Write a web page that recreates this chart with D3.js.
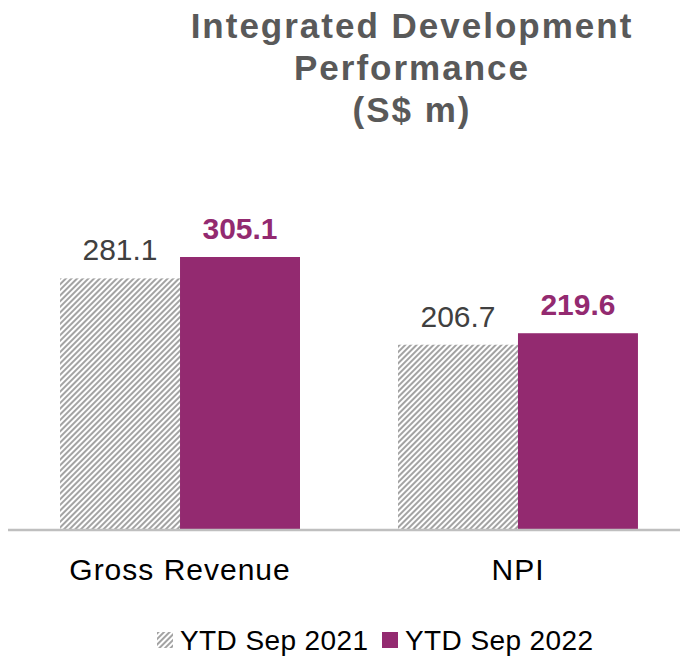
<!DOCTYPE html>
<html>
<head>
<meta charset="utf-8">
<script src="https://cdn.jsdelivr.net/npm/d3@7"></script>
<style>
  body { margin: 0; background: #fff; }
  text { font-family: "Liberation Sans", Arial, sans-serif; }
</style>
</head>
<body>
<div id="chart"></div>
<script>
var categories = ["Gross Revenue", "NPI"];
var seriesNames = ["YTD Sep 2021", "YTD Sep 2022"];
var values2021 = [281.1, 206.7];
var values2022 = [305.1, 219.6];
var titleLines = ["Integrated Development", "Performance", "(S$ m)"];

var width = 680, height = 658;
var purple = "#932a70";
var hatchGray = "#a3a3a3";

var svg = d3.select("#chart")
    .append("svg")
    .attr("width", width)
    .attr("height", height);

// hatch pattern for 2021 bars
var defs = svg.append("defs");
var pat = defs.append("pattern")
    .attr("id", "hatch")
    .attr("patternUnits", "userSpaceOnUse")
    .attr("width", 4)
    .attr("height", 4)
    .attr("patternTransform", "rotate(45)");
pat.append("rect").attr("width", 4).attr("height", 4).attr("fill", "#fff");
pat.append("line")
    .attr("x1", 1).attr("y1", 0).attr("x2", 1).attr("y2", 4)
    .attr("stroke", hatchGray)
    .attr("stroke-width", 2);

var x0 = d3.scaleBand()
    .domain(categories)
    .range([8, 690])
    .paddingInner(0.29)
    .paddingOuter(0.154);

var x1 = d3.scaleBand()
    .domain(seriesNames)
    .range([0, x0.bandwidth()]);

var y = d3.scaleLinear()
    .domain([0, 350])
    .range([529, 529 - 350 * 0.8915]);

var rows = categories.map(function (c, i) {
    return { cat: c, vals: [values2021[i], values2022[i]] };
});

var group = svg.selectAll("g.grp")
    .data(rows)
    .enter()
    .append("g")
    .attr("class", "grp")
    .attr("transform", d => "translate(" + x0(d.cat) + ",0)");

group.selectAll("rect")
    .data(d => d.vals.map((v, j) => ({ s: seriesNames[j], v: v, j: j })))
    .enter()
    .append("rect")
    .attr("x", d => x1(d.s))
    .attr("y", d => y(d.v))
    .attr("width", x1.bandwidth())
    .attr("height", d => y(0) - y(d.v))
    .attr("fill", d => d.j === 0 ? "url(#hatch)" : purple);

group.selectAll("text.val")
    .data(d => d.vals.map((v, j) => ({ s: seriesNames[j], v: v, j: j })))
    .enter()
    .append("text")
    .attr("class", "val")
    .attr("x", d => x1(d.s) + x1.bandwidth() / 2)
    .attr("y", d => y(d.v) - 18)
    .attr("text-anchor", "middle")
    .attr("font-size", "30px")
    .attr("font-weight", d => d.j === 0 ? "normal" : "bold")
    .attr("fill", d => d.j === 0 ? "#404040" : purple)
    .text(d => d.v.toFixed(1));

// baseline axis
svg.append("line")
    .attr("x1", 8).attr("x2", width)
    .attr("y1", y(0) + 1).attr("y2", y(0) + 1)
    .attr("stroke", "#bfbfbf")
    .attr("stroke-width", 2.5);

// category labels
svg.selectAll("text.cat")
    .data(categories)
    .enter()
    .append("text")
    .attr("class", "cat")
    .attr("x", d => x0(d) + x0.bandwidth() / 2)
    .attr("y", 580)
    .attr("text-anchor", "middle")
    .attr("font-size", "30px")
    .attr("letter-spacing", "1px")
    .attr("fill", "#000")
    .text(d => d);

// title
svg.selectAll("text.title")
    .data(titleLines)
    .enter()
    .append("text")
    .attr("class", "title")
    .attr("x", 412)
    .attr("y", (d, i) => 38 + i * 42)
    .attr("text-anchor", "middle")
    .attr("font-size", "35px")
    .attr("font-weight", "bold")
    .attr("letter-spacing", "2px")
    .attr("fill", "#595959")
    .text(d => d);

// legend
var legendX = [157, 382];
var leg = svg.selectAll("g.leg")
    .data(seriesNames)
    .enter()
    .append("g")
    .attr("class", "leg")
    .attr("transform", (d, i) => "translate(" + legendX[i] + ",632)");
leg.append("rect")
    .attr("width", 16).attr("height", 16)
    .attr("fill", (d, i) => i === 0 ? "url(#hatch)" : purple);
leg.append("text")
    .attr("x", 23)
    .attr("y", 18)
    .attr("font-size", "28px")
    .attr("letter-spacing", "0.4px")
    .attr("fill", "#000")
    .text(d => d);
</script>
</body>
</html>
